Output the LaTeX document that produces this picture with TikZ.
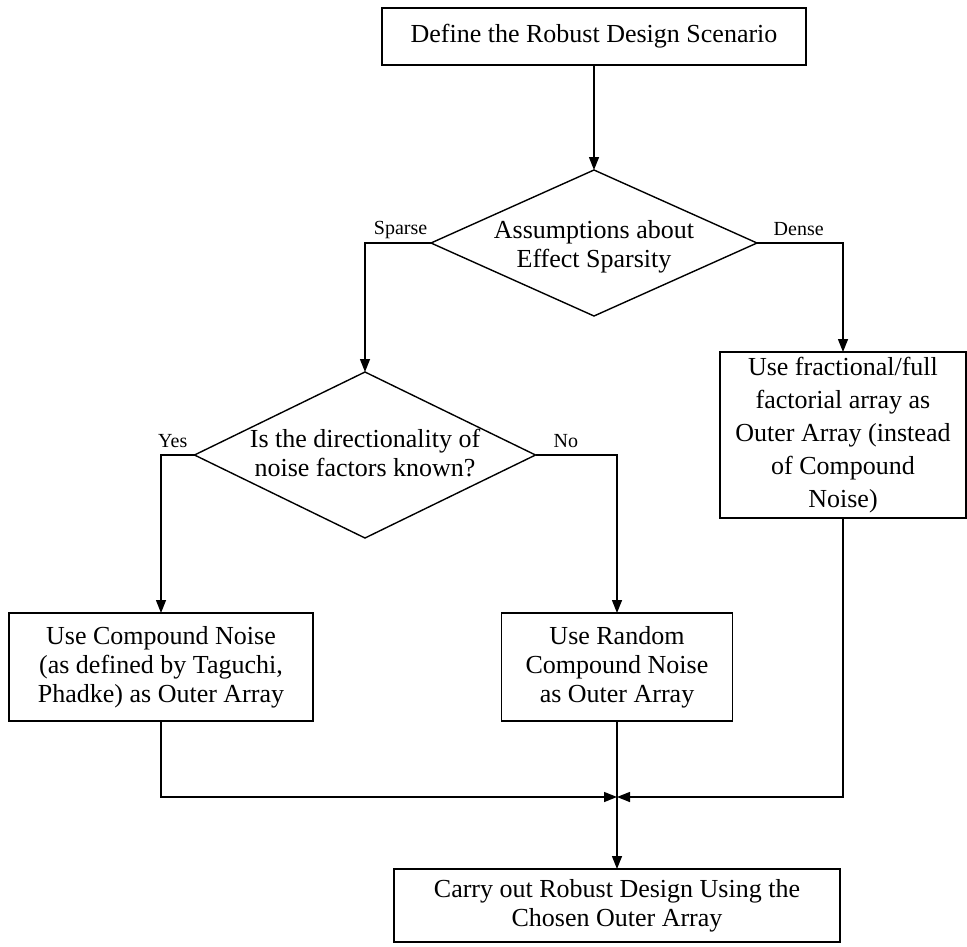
\documentclass[tikz,border=0pt]{standalone}
\usepackage{fontspec}
\setmainfont{Liberation Serif}
\usetikzlibrary{shapes.geometric,arrows.meta}
\begin{document}
\begin{tikzpicture}[x=1pt,y=-1pt,
  line width=1.4pt,
  txt/.style={font=\fontsize{26}{29}\selectfont, align=center, inner sep=0pt},
  box/.style={draw, rectangle, inner sep=0pt, outer sep=0pt, txt},
  decision/.style={draw, diamond, inner sep=0pt, outer sep=0pt},
  lbl/.style={font=\fontsize{20}{24}\selectfont, inner sep=0pt},
  arr/.style={-{Triangle[length=13pt,width=10pt]}},
]
\useasboundingbox (0,0) rectangle (967,946);

% process boxes and decisions
\node[box, minimum width=424pt, minimum height=57pt,
      text height=28pt, text depth=17pt, inner ysep=6pt]
  (define) at (594,36.5) {Define the Robust Design Scenario};

\node[decision, minimum width=326pt, minimum height=146pt] (sparsity) at (594,243) {};
\node[txt] (sparsityText) at (594,247) {Assumptions about\\Effect Sparsity};

\node[decision, minimum width=341pt, minimum height=166pt] (direction) at (365,455) {};
\node[txt] (directionText) at (365,453) {Is the directionality of\\noise factors known?};

\node[box, minimum width=246pt, minimum height=166pt, font=\fontsize{26}{33}\selectfont]
  (factorial) at (843,435) {Use fractional/full\\factorial array as\\Outer Array (instead\\of Compound\\Noise)};

\node[box, minimum width=304pt, minimum height=108pt]
  (compound) at (161,667) {Use Compound Noise\\(as defined by Taguchi,\\Phadke) as Outer Array};

\node[box, minimum width=231pt, minimum height=108pt]
  (random) at (617,667) {Use Random\\Compound Noise\\as Outer Array};

\node[box, minimum width=446pt, minimum height=73pt]
  (carry) at (617,905.5) {Carry out Robust Design Using the\\Chosen Outer Array};

\coordinate (merge) at (617,797);

% connectors
\draw[arr] (define) -- (sparsity);
\draw[arr] (sparsity.west) -| (direction.north);
\draw[arr] (sparsity.east) -| (factorial.north);
\draw[arr] (direction.west) -| (compound.north);
\draw[arr] (direction.east) -| (random.north);
\draw[arr] (compound.south) |- (merge);
\draw[arr] (factorial.south) |- (merge);
\draw[arr] (random.south) -- (carry.north);

% branch labels
\node[lbl, anchor=base east] (sparseLbl) at (428,234) {Sparse};
\node[lbl, anchor=base west] (denseLbl) at (773,235) {Dense};
\node[lbl, anchor=base east] (yesLbl) at (188,447) {Yes};
\node[lbl, anchor=base west] (noLbl) at (553,447) {No};
\end{tikzpicture}
\end{document}
